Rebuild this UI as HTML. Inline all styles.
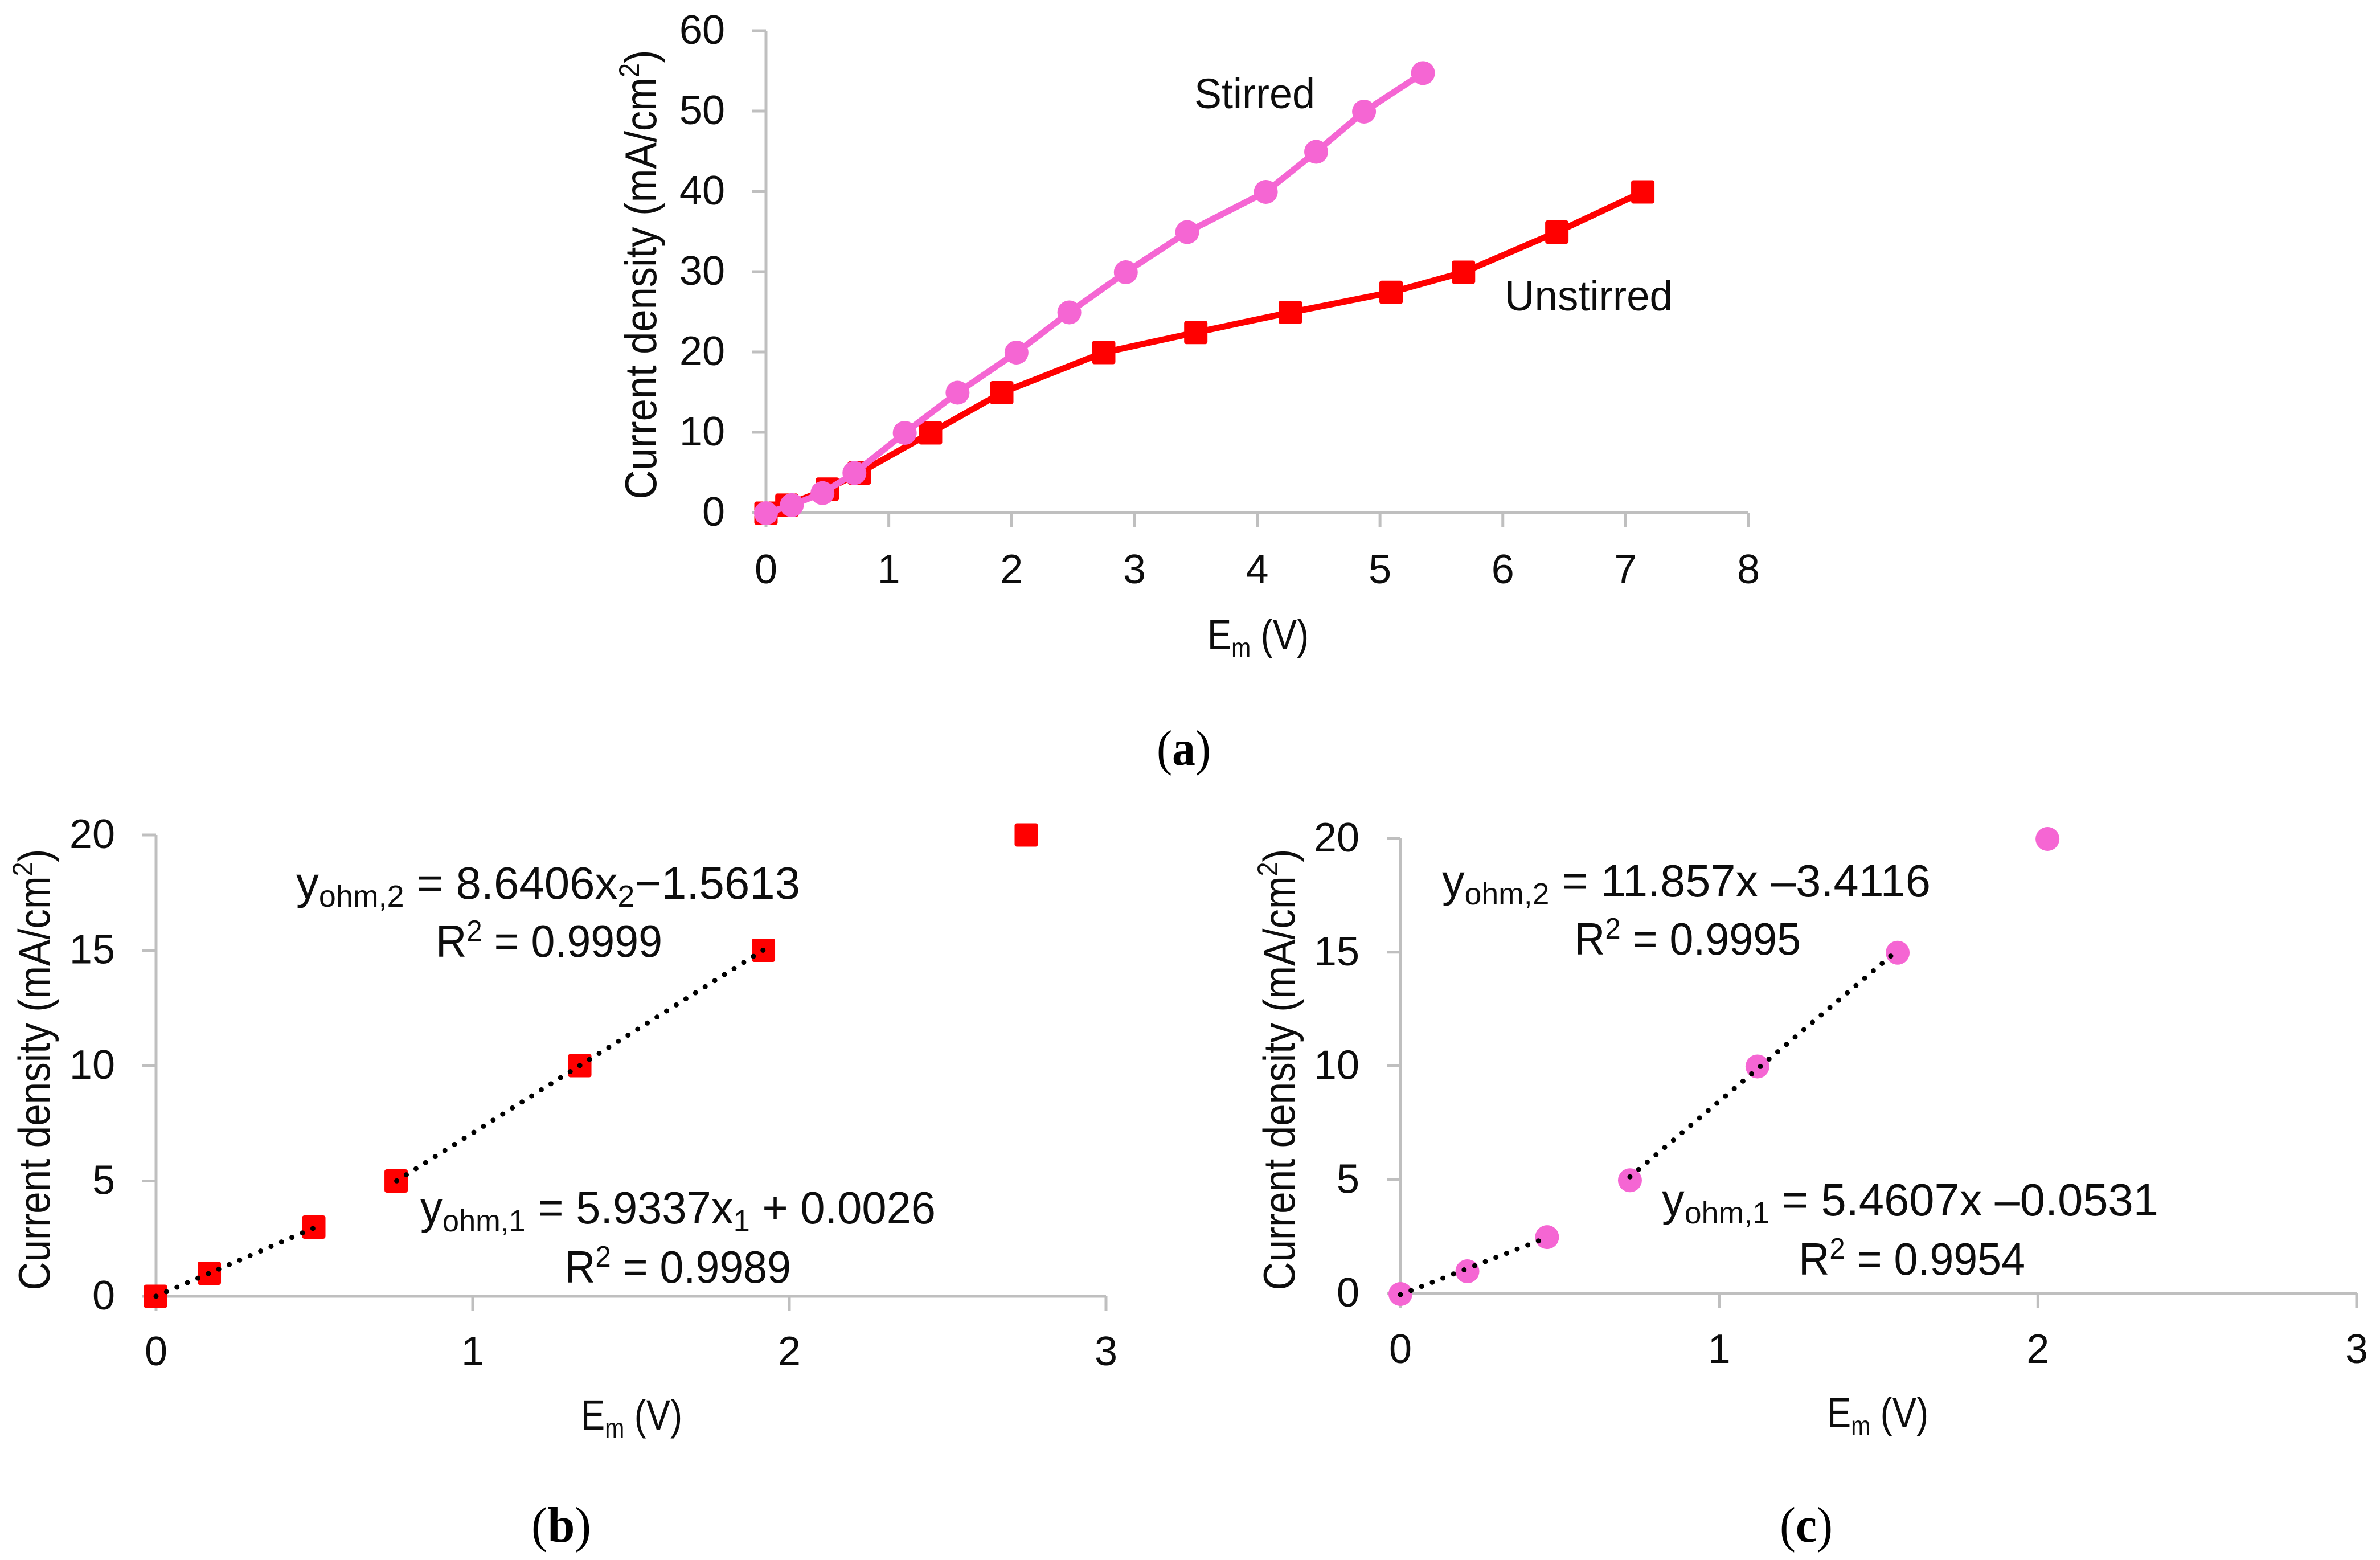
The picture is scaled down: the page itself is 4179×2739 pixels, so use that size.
<!DOCTYPE html>
<html><head><meta charset="utf-8"><title>Current density vs membrane voltage</title>
<style>html,body{margin:0;padding:0;background:#fff}svg{display:block}text{font-family:"Liberation Sans",sans-serif;fill:#0d0d0d}.cap{font-family:"Liberation Serif",serif;fill:#000}</style></head>
<body>
<svg id="fig" xmlns="http://www.w3.org/2000/svg" width="4179" height="2739" viewBox="0 0 4179 2739">
<rect width="4179" height="2739" fill="#fff"/>
<g id="marks"></g>
<g font-size="74">
<text transform="translate(1152,482) rotate(-90)" text-anchor="middle" textLength="789" lengthAdjust="spacingAndGlyphs" font-size="78">Current density (mA/cm<tspan font-size="50" dy="-30">2</tspan><tspan dy="30">)</tspan></text>
<text x="2120" y="1140" textLength="178" lengthAdjust="spacingAndGlyphs">E<tspan font-size="48" dy="14">m</tspan><tspan dy="-14"> (V)</tspan></text>
<text x="2097" y="190" textLength="212" lengthAdjust="spacingAndGlyphs">Stirred</text>
<text x="2642" y="545" textLength="295" lengthAdjust="spacingAndGlyphs">Unstirred</text>
<text class="cap" x="2031" y="1343" font-size="88" textLength="95" lengthAdjust="spacingAndGlyphs">(<tspan font-weight="bold">a</tspan>)</text>
</g>
<g font-size="80">
<text transform="translate(87,1878) rotate(-90)" text-anchor="middle" textLength="775" lengthAdjust="spacingAndGlyphs" font-size="78">Current density (mA/cm<tspan font-size="50" dy="-30">2</tspan><tspan dy="30">)</tspan></text>
<text x="1020" y="2510" font-size="74" textLength="178" lengthAdjust="spacingAndGlyphs">E<tspan font-size="48" dy="14">m</tspan><tspan dy="-14"> (V)</tspan></text>
<text x="520" y="1578" textLength="885" lengthAdjust="spacingAndGlyphs">y<tspan font-size="54" dy="14">ohm,2</tspan><tspan dy="-14"> = 8.6406x</tspan><tspan font-size="54" dy="14">2</tspan><tspan dy="-14">−1.5613</tspan></text>
<text x="765" y="1680" textLength="398" lengthAdjust="spacingAndGlyphs">R<tspan font-size="52" dy="-28">2</tspan><tspan dy="28"> = 0.9999</tspan></text>
<text x="738" y="2148" textLength="905" lengthAdjust="spacingAndGlyphs">y<tspan font-size="54" dy="14">ohm,1</tspan><tspan dy="-14"> = 5.9337x</tspan><tspan font-size="54" dy="14">1</tspan><tspan dy="-14"> + 0.0026</tspan></text>
<text x="991" y="2252" textLength="398" lengthAdjust="spacingAndGlyphs">R<tspan font-size="52" dy="-28">2</tspan><tspan dy="28"> = 0.9989</tspan></text>
<text class="cap" x="933" y="2707" font-size="88" textLength="105" lengthAdjust="spacingAndGlyphs">(<tspan font-weight="bold">b</tspan>)</text>
</g>
<g font-size="80">
<text transform="translate(2273,1878) rotate(-90)" text-anchor="middle" textLength="775" lengthAdjust="spacingAndGlyphs" font-size="78">Current density (mA/cm<tspan font-size="50" dy="-30">2</tspan><tspan dy="30">)</tspan></text>
<text x="3208" y="2506" font-size="74" textLength="178" lengthAdjust="spacingAndGlyphs">E<tspan font-size="48" dy="14">m</tspan><tspan dy="-14"> (V)</tspan></text>
<text x="2532" y="1574" textLength="858" lengthAdjust="spacingAndGlyphs">y<tspan font-size="54" dy="14">ohm,2</tspan><tspan dy="-14"> = 11.857x –3.4116</tspan></text>
<text x="2764" y="1676" textLength="398" lengthAdjust="spacingAndGlyphs">R<tspan font-size="52" dy="-28">2</tspan><tspan dy="28"> = 0.9995</tspan></text>
<text x="2918" y="2134" textLength="872" lengthAdjust="spacingAndGlyphs">y<tspan font-size="54" dy="14">ohm,1</tspan><tspan dy="-14">  = 5.4607x –0.0531</tspan></text>
<text x="3158" y="2238" textLength="398" lengthAdjust="spacingAndGlyphs">R<tspan font-size="52" dy="-28">2</tspan><tspan dy="28"> = 0.9954</tspan></text>
<text class="cap" x="3125" y="2707" font-size="88" textLength="93" lengthAdjust="spacingAndGlyphs">(<tspan font-weight="bold">c</tspan>)</text>
</g>
</svg>
<script>
const unstirredX = [0, 0.17, 0.5, 0.76, 1.34, 1.92, 2.75, 3.5, 4.27, 5.09, 5.68, 6.44, 7.14];
const unstirredY = [0, 1, 3, 5, 10, 15, 20, 22.5, 25, 27.5, 30, 35, 40];
const stirredX = [0, 0.21, 0.46, 0.72, 1.13, 1.56, 2.04, 2.47, 2.93, 3.43, 4.07, 4.48, 4.87, 5.35];
const stirredY = [0, 1, 2.5, 5, 10, 15, 20, 25, 30, 35, 40, 45, 50, 54.8];
const bX = [0, 0.17, 0.5, 0.76, 1.34, 1.92, 2.75];
const bY = [0, 1, 3, 5, 10, 15, 20];
const cX = [0, 0.21, 0.46, 0.72, 1.12, 1.56, 2.03];
const cY = [0, 1, 2.5, 5, 10, 15, 20];
const aXTicks = [0, 1, 2, 3, 4, 5, 6, 7, 8];
const aYTicks = [0, 10, 20, 30, 40, 50, 60];
const bcXTicks = [0, 1, 2, 3];
const bcYTicks = [0, 5, 10, 15, 20];
const bTrendSlopes = [5.9337, 8.6406];
const bTrendIntercepts = [0.0026, -1.5613];
const bTrendStarts = [0, 0.76];
const bTrendEnds = [0.5, 1.92];
const cTrendSlopes = [5.4607, 11.857];
const cTrendIntercepts = [-0.0531, -3.4116];
const cTrendStarts = [0, 0.72];
const cTrendEnds = [0.46, 1.56];

const NS = 'http://www.w3.org/2000/svg';
const root = document.getElementById('marks');
const RED = '#ff0000';
const PINK = '#f566d3';
const GREY = '#bfbfbf';

function make(tag, name, parent) {
  const el = document.createElementNS(NS, tag);
  
  
  parent.appendChild(el);
  return el;
}
function axisFns(b) {
  return {
    x: v => b.x0 + (v - b.xMin) / (b.xMax - b.xMin) * (b.x1 - b.x0),
    y: v => b.y0 - (v - b.yMin) / (b.yMax - b.yMin) * (b.y0 - b.y1)
  };
}
function markFns(b) {
  const s = axisFns(b);
  return { x: v => s.x(v) + b.mx, y: v => s.y(v) + b.my };
}
function drawAxes(id, b, sc, xTicks, yTicks) {
  const g = make('g', id + '-axes', root);
  const xl = make('line', id + '-x-axis', g);
  xl.setAttribute('x1', b.x0); xl.setAttribute('x2', b.x1);
  xl.setAttribute('y1', b.y0); xl.setAttribute('y2', b.y0);
  const yl = make('line', id + '-y-axis', g);
  yl.setAttribute('x1', b.x0); yl.setAttribute('x2', b.x0);
  yl.setAttribute('y1', b.y0); yl.setAttribute('y2', b.y1);
  xl.setAttribute('stroke', GREY); xl.setAttribute('stroke-width', 5);
  yl.setAttribute('stroke', GREY); yl.setAttribute('stroke-width', 5);
  xTicks.forEach(t => {
    const k = make('line', id + '-x-tick', g);
    k.setAttribute('x1', sc.x(t)); k.setAttribute('x2', sc.x(t));
    k.setAttribute('y1', b.y0); k.setAttribute('y2', b.y0 + 25);
    k.setAttribute('stroke', GREY); k.setAttribute('stroke-width', 5);
    const l = make('text', id + '-x-tick-label', g);
    l.setAttribute('x', sc.x(t)); l.setAttribute('y', b.y0 + b.lab);
    l.setAttribute('text-anchor', 'middle'); l.setAttribute('font-size', 72);
    l.textContent = t;
  });
  yTicks.forEach(t => {
    const k = make('line', id + '-y-tick', g);
    k.setAttribute('x1', b.x0 - 24); k.setAttribute('x2', b.x0);
    k.setAttribute('y1', sc.y(t)); k.setAttribute('y2', sc.y(t));
    k.setAttribute('stroke', GREY); k.setAttribute('stroke-width', 5);
    const l = make('text', id + '-y-tick-label', g);
    l.setAttribute('x', b.x0 - 72); l.setAttribute('y', sc.y(t) + 23);
    l.setAttribute('text-anchor', 'end'); l.setAttribute('font-size', 72);
    l.textContent = t;
  });
}
function drawLine(name, xs, ys, sc, color) {
  const p = make('polyline', name + '-line', root);
  p.setAttribute('points', xs.map((x, i) => sc.x(x) + ',' + sc.y(ys[i])).join(' '));
  p.setAttribute('fill', 'none'); p.setAttribute('stroke', color); p.setAttribute('stroke-width', 11);
  p.setAttribute('stroke-linejoin', 'round');
}
function drawSquares(name, xs, ys, sc) {
  const g = make('g', name + '-points', root);
  xs.forEach((x, i) => {
    const r = make('rect', name + '-point', g);
    r.setAttribute('x', sc.x(x) - 20.5); r.setAttribute('y', sc.y(ys[i]) - 20.5);
    r.setAttribute('width', 41); r.setAttribute('height', 41); r.setAttribute('rx', 4);
    r.setAttribute('fill', RED);
  });
}
function drawCircles(name, xs, ys, sc) {
  const g = make('g', name + '-points', root);
  xs.forEach((x, i) => {
    const c = make('circle', name + '-point', g);
    c.setAttribute('cx', sc.x(x)); c.setAttribute('cy', sc.y(ys[i]));
    c.setAttribute('r', 21); c.setAttribute('fill', PINK);
  });
}
function drawTrends(name, slopes, intercepts, starts, ends, sc) {
  slopes.forEach((m, i) => {
    const l = make('line', name + '-trendline', root);
    l.setAttribute('x1', sc.x(starts[i])); l.setAttribute('y1', sc.y(m * starts[i] + intercepts[i]));
    l.setAttribute('x2', sc.x(ends[i])); l.setAttribute('y2', sc.y(m * ends[i] + intercepts[i]));
    l.setAttribute('stroke', '#000'); l.setAttribute('stroke-width', 9);
    l.setAttribute('stroke-linecap', 'round'); l.setAttribute('stroke-dasharray', '0 20');
  });
}

const boxA = {x0: 1345, x1: 3070, y0: 900, y1: 54, xMin: 0, xMax: 8, yMin: 0, yMax: 60, lab: 124, mx: 0, my: 1};
const boxB = {x0: 274, x1: 1942, y0: 2276, y1: 1466, xMin: 0, xMax: 3, yMin: 0, yMax: 20, lab: 121, mx: -1, my: 0};
const boxC = {x0: 2459, x1: 4138, y0: 2271, y1: 1472, xMin: 0, xMax: 3, yMin: 0, yMax: 20, lab: 122, mx: 0, my: 1};
const scA = axisFns(boxA), scB = axisFns(boxB), scC = axisFns(boxC);
const mkA = markFns(boxA), mkB = markFns(boxB), mkC = markFns(boxC);

drawAxes('panel-a', boxA, scA, aXTicks, aYTicks);
drawLine('unstirred', unstirredX, unstirredY, mkA, RED);
drawSquares('unstirred', unstirredX, unstirredY, mkA);
drawLine('stirred', stirredX, stirredY, mkA, PINK);
drawCircles('stirred', stirredX, stirredY, mkA);

drawAxes('panel-b', boxB, scB, bcXTicks, bcYTicks);
drawSquares('panel-b-unstirred', bX, bY, mkB);
drawTrends('panel-b', bTrendSlopes, bTrendIntercepts, bTrendStarts, bTrendEnds, scB);

drawAxes('panel-c', boxC, scC, bcXTicks, bcYTicks);
drawCircles('panel-c-stirred', cX, cY, mkC);
drawTrends('panel-c', cTrendSlopes, cTrendIntercepts, cTrendStarts, cTrendEnds, scC);
</script>
</body></html>
